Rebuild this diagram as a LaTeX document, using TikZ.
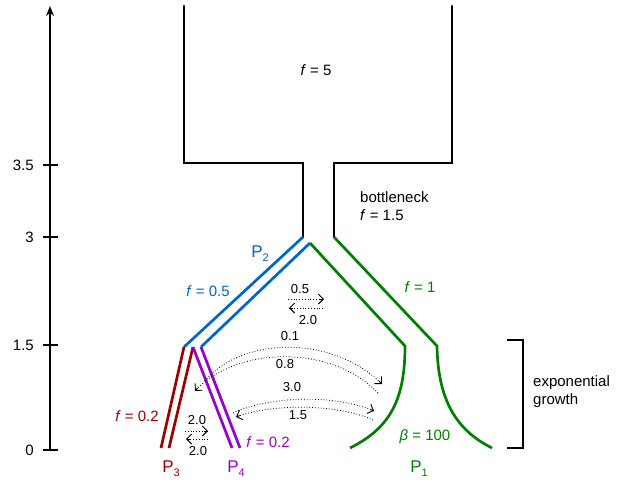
\documentclass[tikz,border=0pt]{standalone}
\usepackage{fontspec}
\setmainfont{Liberation Sans}
\usetikzlibrary{arrows.meta,calc}
\definecolor{pblue}{RGB}{0,102,204}
\definecolor{pgreen}{RGB}{0,128,0}
\definecolor{pred}{RGB}{160,0,0}
\definecolor{ppurple}{RGB}{153,0,204}
\newcommand{\Pl}[1]{{\fontsize{17}{20}\selectfont P}\raisebox{-0.5ex}{\fontsize{11}{11}\selectfont #1}}
\begin{document}
\begin{tikzpicture}[x=1pt,y=-1pt,
  wall/.style={line width=2.7pt,line cap=round,line join=miter},
  lbl/.style={font=\fontsize{15}{18}\selectfont,inner sep=0pt},
  rate/.style={font=\fontsize{13}{15}\selectfont,inner sep=0pt},
  mig/.style={dotted,line width=0.8pt},
  tip/.style={solid,line width=0.9pt,-{Straight Barb[length=5pt,width=10pt]}},
  tick/.style={line width=1.4pt}]
\useasboundingbox (0,0) rectangle (622,483);
% axis
\coordinate (a0) at (50,450);
\coordinate (atop) at (50,6);
\draw[line width=2.6pt,-{Stealth[length=10pt,width=8pt]}] (a0) -- (atop);
\foreach \y/\t in {450/0,345/1.5,237/3,165/3.5}{
  \draw[tick] (43,\y) -- (58,\y);
  \node[lbl,anchor=east] at (34,\y) {\t};
}
% coordinates of the tree
\coordinate (bl) at (184,6);
\coordinate (blc) at (184,163);
\coordinate (nl) at (303,163);
\coordinate (nlb) at (303,237);
\coordinate (br) at (452,6);
\coordinate (brc) at (452,163);
\coordinate (nr) at (334,163);
\coordinate (nrb) at (334,237);
\coordinate (peak) at (310,243);
\coordinate (bo) at (184,347);
\coordinate (bi) at (201,347);
\coordinate (rp) at (193,347);
\coordinate (r1) at (161,448);
\coordinate (r2) at (169,448);
\coordinate (p1) at (232,448);
\coordinate (p2) at (240,448);
\coordinate (gl) at (405,346);
\coordinate (gle) at (350,448);
\coordinate (gr) at (437,346);
\coordinate (gre) at (492,448);
% black ancestral population
\draw[wall] (bl) -- (blc) -- (nl) -- (nlb);
\draw[wall] (br) -- (brc) -- (nr) -- (nrb);
% P2 blue
\draw[wall,pblue,line cap=butt] (nlb) -- (bo);
\draw[wall,pblue,line cap=butt] (peak) -- (bi);
% P3 red
\draw[wall,pred,line cap=butt] (bo) -- (r1);
\draw[wall,pred,line cap=butt] (rp) -- (r2);
% P4 purple
\draw[wall,ppurple,line cap=butt] (rp) -- (p1);
\draw[wall,ppurple,line cap=butt] (bi) -- (p2);
% P1 green
\draw[wall,pgreen,line cap=butt] (peak) -- (gl) .. controls (405,400) and (390,428) .. (gle);
\draw[wall,pgreen,line cap=butt] (nrb) -- (gr) .. controls (438,400) and (456,430) .. (gre);
% labels
\node[lbl] (f5) at (316,70) {\textit{f} = 5};
\node[lbl,anchor=west] (bn) at (360,197) {bottleneck};
\node[lbl,anchor=west] (f15) at (360,215) {\textit{f} = 1.5};
\node[lbl,pblue] (P2) at (260,254) {\Pl{2}};
\node[lbl,pblue] (f05) at (208,291) {\textit{f} = 0.5};
\node[lbl,pgreen] (f1) at (420,287) {\textit{f} = 1};
\node[lbl,pred] (f02a) at (137,416) {\textit{f} = 0.2};
\node[lbl,ppurple] (f02b) at (268,442) {\textit{f} = 0.2};
\node[lbl,pgreen] (beta) at (425,437) {\textit{β} = 100};
\node[lbl,pgreen] (P1) at (419,469) {\Pl{1}};
\node[lbl,pred] (P3) at (171,469) {\Pl{3}};
\node[lbl,ppurple] (P4) at (236,469) {\Pl{4}};
% bracket
\coordinate (k1) at (507,340);
\coordinate (k2) at (523,340);
\coordinate (k3) at (523,448);
\coordinate (k4) at (507,448);
\draw[line width=1.6pt] (k1) -- (k2) -- (k3) -- (k4);
\node[lbl,anchor=west,align=left] (eg) at (533,392) {exponential\\growth};
% migration arrows
\coordinate (m1a) at (288,299); \coordinate (m1b) at (324,299);
\coordinate (m2a) at (323,308); \coordinate (m2b) at (289,308);
\draw[mig] (m1a) -- (m1b);
\draw[tip] ($(m1b)!4pt!(m1a)$) -- (m1b);
\draw[mig] (m2a) -- (m2b);
\draw[tip] ($(m2b)!4pt!(m2a)$) -- (m2b);
\node[rate] (r05) at (300,289) {0.5};
\node[rate] (r20a) at (308,320) {2.0};
\coordinate (c1a) at (205,381); \coordinate (c1b) at (382,384);
\coordinate (c2a) at (378,393); \coordinate (c2b) at (195,391);
\coordinate (c1k) at (330,333); \coordinate (c2k) at (235,347);
\draw[mig] (c1a) .. controls (240,338) and (c1k) .. (c1b);
\draw[tip] ($(c1b)!4pt!(c1k)$) -- (c1b);
\draw[mig] (c2a) .. controls (330,343) and (c2k) .. (c2b);
\draw[tip] ($(c2b)!4pt!(c2k)$) -- (c2b);
\node[rate] (r01) at (290,336) {0.1};
\node[rate] (r08) at (285,364) {0.8};
\coordinate (d1a) at (233,413); \coordinate (d1b) at (374,411);
\coordinate (d2a) at (373,420); \coordinate (d2b) at (236,417);
\coordinate (d1k) at (335,394); \coordinate (d2k) at (270,404);
\draw[mig] (d1a) .. controls (270,396) and (d1k) .. (d1b);
\draw[tip] ($(d1b)!4pt!(d1k)$) -- (d1b);
\draw[mig] (d2a) .. controls (335,403) and (d2k) .. (d2b);
\draw[tip] ($(d2b)!4pt!(d2k)$) -- (d2b);
\node[rate] (r30) at (292,387) {3.0};
\node[rate] (r15) at (298,415) {1.5};
\coordinate (e1a) at (185,431); \coordinate (e1b) at (208,431);
\coordinate (e2a) at (208,439); \coordinate (e2b) at (186,439);
\draw[mig] (e1a) -- (e1b);
\draw[tip] ($(e1b)!4pt!(e1a)$) -- (e1b);
\draw[mig] (e2a) -- (e2b);
\draw[tip] ($(e2b)!4pt!(e2a)$) -- (e2b);
\node[rate] (r20b) at (197,420) {2.0};
\node[rate] (r20c) at (198,451) {2.0};
\end{tikzpicture}
\end{document}
